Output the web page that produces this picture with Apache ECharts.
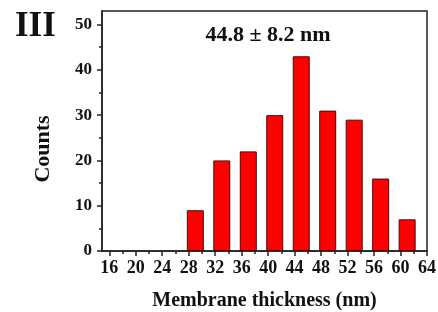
<!doctype html>
<html>
<head>
    <meta charset="utf-8">
    <title>Membrane thickness histogram</title>
    <style>
        html, body { margin: 0; padding: 0; background: #fff; }
        #chart { width: 438px; height: 312px; }
    </style>
</head>
<body>
<div id="chart"></div>
<script src="https://cdn.jsdelivr.net/npm/echarts@6/dist/echarts.min.js"></script>
<script>
    // histogram data
    var binCenters = [29, 33, 37, 41, 45, 49, 53, 57, 61];
    var counts = [9, 20, 22, 30, 43, 31, 29, 16, 7];
    var xMajorTicks = [16, 20, 24, 28, 32, 36, 40, 44, 48, 52, 56, 60, 64];
    var xMinorTicks = [18, 22, 26, 30, 34, 38, 42, 46, 50, 54, 58, 62];
    var yMajorTicks = [0, 10, 20, 30, 40, 50];
    var yMinorTicks = [5, 15, 25, 35, 45];

    var font = '"Times New Roman", "Liberation Serif", serif';
    var ink = '#222';

    var chart = echarts.init(document.getElementById('chart'));

    var barData = [];
    for (var i = 0; i < binCenters.length; i++) {
        barData.push([binCenters[i], counts[i]]);
    }

    var option = {
        animation: false,
        title: [
            {
                text: 'III', left: 10, top: 4,
                textStyle: { fontFamily: font, fontWeight: 'bold', fontSize: 35, color: '#111' }
            },
            {
                text: '44.8 \u00b1 8.2 nm', left: 263, top: 19, textAlign: 'center',
                textStyle: { fontFamily: font, fontWeight: 'bold', fontSize: 22, color: '#111' }
            }
        ],
        graphic: [{
            type: 'text',
            x: 43, y: 149, rotation: Math.PI / 2,
            style: {
                text: 'Counts', font: 'bold 22px ' + font, fill: '#111',
                textAlign: 'center', textVerticalAlign: 'middle'
            }
        }],
        grid: {
            left: 102, right: 11, top: 11, bottom: 61,
            outerBoundsMode: 'none',
            show: true, borderColor: ink, borderWidth: 1.5
        },
        xAxis: [
            {
                type: 'value', min: 14.9, max: 64,
                name: 'Membrane thickness (nm)', nameLocation: 'middle', nameGap: 40,
                nameTextStyle: { fontFamily: font, fontWeight: 'bold', fontSize: 20, color: '#111' },
                axisLine: { lineStyle: { color: ink, width: 1.5 } },
                axisTick: { customValues: xMajorTicks, length: 5, lineStyle: { color: ink, width: 1.5 } },
                axisLabel: {
                    customValues: xMajorTicks, margin: 8,
                    fontFamily: font, fontWeight: 'bold', fontSize: 18, color: '#111'
                },
                splitLine: { show: false }
            },
            {
                type: 'value', min: 14.9, max: 64, position: 'bottom',
                axisLine: { show: false },
                axisTick: { customValues: xMinorTicks, length: 3, lineStyle: { color: ink, width: 1.5 } },
                axisLabel: { show: false },
                splitLine: { show: false }
            }
        ],
        yAxis: [
            {
                type: 'value', min: 0, max: 53,
                axisLine: { show: true, lineStyle: { color: ink, width: 1.5 } },
                axisTick: { show: true, customValues: yMajorTicks, length: 5, lineStyle: { color: ink, width: 1.5 } },
                axisLabel: {
                    customValues: yMajorTicks, margin: 10,
                    fontFamily: font, fontWeight: 'bold', fontSize: 17, color: '#111'
                },
                splitLine: { show: false }
            },
            {
                type: 'value', min: 0, max: 53, position: 'left',
                axisLine: { show: false },
                axisTick: { show: true, customValues: yMinorTicks, length: 3, lineStyle: { color: ink, width: 1.5 } },
                axisLabel: { show: false },
                splitLine: { show: false }
            }
        ],
        series: [{
            type: 'bar',
            data: barData,
            barWidth: 17,
            itemStyle: { color: '#ff0000', borderColor: '#4a0a0a', borderWidth: 1 }
        }]
    };
    chart.setOption(option);
</script>
</body>
</html>
